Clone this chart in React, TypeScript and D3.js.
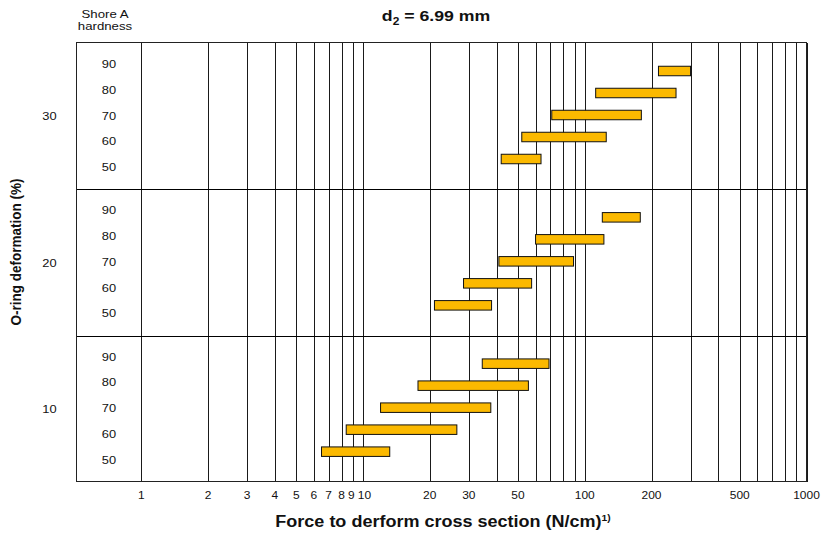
import React from "react";
import * as d3 from "d3";

const deformations = [30, 20, 10];
const hardness = [90, 80, 70, 60, 50];
// force ranges [min, max] N/cm per deformation, per hardness (90..50)
const ranges30: [number, number][] = [[215, 300], [112, 258], [71, 180], [52, 125], [42, 63.5]];
const ranges20: [number, number][] = [[120, 178], [60, 122], [41, 89], [28.4, 57.6], [21, 38]];
const ranges10: [number, number][] = [[34.5, 69], [17.7, 55.7], [12, 37.7], [8.4, 26.5], [6.5, 13.2]];
const xTickLabels = [1, 2, 3, 4, 5, 6, 7, 8, 9, 10, 20, 30, 50, 100, 200, 500, 1000];
const gridValues = [1, 2, 3, 4, 5, 6, 7, 8, 9, 10, 20, 30, 40, 50, 60, 70, 80, 90, 100, 200, 300, 400, 500, 600, 700, 800, 900, 1000];

const W = 824;
const H = 538;
const left = 76.5;
const right = 806.5;
const top = 43;
const bottom = 482;
const FONT = "'Liberation Sans', Arial, Helvetica, sans-serif";
const BAR_FILL = "#FBB900";
const SX = 1.14;

function T(props: { x: number; y: number; size: number; bold?: boolean; dy?: string; children: React.ReactNode }) {
  return (
    <text
      transform={`translate(${props.x},${props.y}) scale(${SX},1)`}
      dy={props.dy}
      textAnchor="middle"
      fontSize={props.size}
      fontWeight={props.bold ? "bold" : "normal"}
      fill="#111"
    >
      {props.children}
    </text>
  );
}

export default function App() {
  const x = d3.scaleLog().domain([0.5, 1000]).range([74.5, right]);
  const band = d3.scaleBand<number>().domain(deformations).range([top, bottom]).padding(0);
  const barY = d3.scalePoint<number>().domain(hardness).range([28, 116]);
  const labY = d3.scalePoint<number>().domain(hardness).range([21, 124]);
  const data: [number, [number, number][]][] = [
    [30, ranges30],
    [20, ranges20],
    [10, ranges10],
  ];
  const barH = 9.5;
  const snap = (v: number) => Math.round(v) + 0.5;

  return (
    <svg width={W} height={H} style={{ position: "absolute", left: 0, top: 0, background: "#fff" }} fontFamily={FONT}>
      <rect x={0} y={0} width={W} height={H} fill="#fff" />
      {gridValues.map((v) => (
        <line key={"g" + v} x1={snap(x(v))} x2={snap(x(v))} y1={top} y2={bottom} stroke="#1a1a1a" strokeWidth={1} />
      ))}
      {deformations.slice(1).map((d) => (
        <line key={"s" + d} x1={left} x2={right} y1={snap(band(d)!)} y2={snap(band(d)!)} stroke="#000" strokeWidth={1} />
      ))}
      <rect x={left} y={top - 0.5} width={right - left} height={bottom - top} fill="none" stroke="#222" strokeWidth={1} />
      {data.map(([d, rs]) =>
        rs.map((r, i) => {
          const h = hardness[i];
          const cy = band(d)! + barY(h)!;
          const x0 = x(r[0]);
          const x1 = x(r[1]);
          return (
            <rect
              key={"b" + d + "-" + h}
              x={x0}
              y={cy - barH / 2}
              width={x1 - x0}
              height={barH}
              fill={BAR_FILL}
              stroke="#111"
              strokeWidth={1}
            />
          );
        })
      )}
      {deformations.map((d) =>
        hardness.map((h) => (
          <T key={"h" + d + "-" + h} x={109} y={band(d)! + labY(h)!} dy="0.36em" size={11.3}>
            {h}
          </T>
        ))
      )}
      {deformations.map((d) => (
        <T key={"d" + d} x={49.5} y={band(d)! + band.bandwidth() / 2} dy="0.36em" size={11.3}>
          {d}
        </T>
      ))}
      {xTickLabels.map((v) => (
        <T key={"t" + v} x={x(v) + (v === 9 ? -1.5 : v === 10 ? 1.5 : 0)} y={498.5} size={10.5}>
          {v}
        </T>
      ))}
      <T x={105} y={18} size={11.6}>Shore A</T>
      <T x={105} y={30} size={11.6}>hardness</T>
      <T x={436} y={21} size={15.5} bold>
        d<tspan fontSize={10.5} dy={3.5}>2</tspan>
        <tspan dy={-3.5}> = 6.99 mm</tspan>
      </T>
      <T x={443} y={527} size={15.8} bold>
        Force to derform cross section (N/cm)<tspan fontSize={9} dy={-6}>1)</tspan>
      </T>
      <text
        transform={`translate(21,252) rotate(-90) scale(1,${SX})`}
        textAnchor="middle"
        fontSize={13.5}
        fontWeight="bold"
        fill="#111"
      >
        O-ring deformation (%)
      </text>
    </svg>
  );
}
